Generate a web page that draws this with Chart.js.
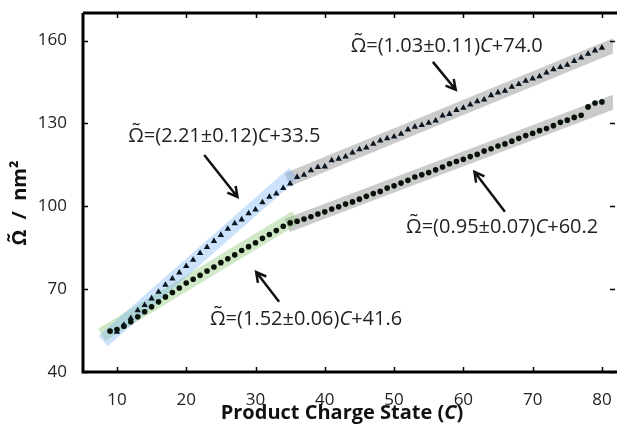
<!DOCTYPE html>
<html>
<head>
<meta charset="utf-8">
<script src="https://cdn.jsdelivr.net/npm/chart.js@4"></script>
<style>
  body { margin: 0; background: #fff; }
  #wrap { width: 617px; height: 427px; }
</style>
</head>
<body>
<div id="wrap"><canvas id="chart" width="617" height="427"></canvas></div>
<script>
// tick values
const xTicks = [10, 20, 30, 40, 50, 60, 70, 80];
const yTicks = [40, 70, 100, 130, 160];

// charge states of the triangle series (upper)
const triCharge = [10, 11, 12, 13, 14, 15, 16, 17, 18, 19, 20, 21, 22, 23, 24, 25, 26, 27, 28, 29,
  30, 31, 32, 33, 34, 35, 36, 37, 38, 39, 40, 41, 42, 43, 44, 45, 46, 47, 48, 49,
  50, 51, 52, 53, 54, 55, 56, 57, 58, 59, 60, 61, 62, 63, 64, 65, 66, 67, 68, 69,
  70, 71, 72, 73, 74, 75, 76, 77, 78, 79, 80];
const triOmega = [54.5, 57.0, 59.5, 62.3, 64.2, 66.6, 69.0, 71.5, 73.8, 76.0, 78.3, 80.6, 83.0, 85.2, 87.4, 89.6, 91.8, 93.8, 95.2, 97.4,
  98.8, 101.4, 103.4, 104.6, 106.6, 108.2, 110.6, 111.4, 113.0, 114.2, 114.4, 116.6, 117.2, 118.0, 119.4, 120.6, 121.2, 122.6, 123.8, 124.6,
  125.2, 126.2, 127.8, 128.8, 129.4, 130.2, 131.0, 132.8, 133.4, 134.8, 135.6, 136.8, 138.0, 138.6, 140.2, 141.2, 141.8, 143.2, 144.2, 145.4,
  146.2, 147.0, 148.4, 149.6, 150.4, 151.2, 152.6, 153.8, 155.2, 156.4, 157.4];

// charge states of the circle series (lower)
const circCharge = [9, 10, 11, 12, 13, 14, 15, 16, 17, 18, 19, 20, 21, 22, 23, 24, 25, 26, 27, 28, 29,
  30, 31, 32, 33, 34, 35, 36, 37, 38, 39, 40, 41, 42, 43, 44, 45, 46, 47, 48, 49,
  50, 51, 52, 53, 54, 55, 56, 57, 58, 59, 60, 61, 62, 63, 64, 65, 66, 67, 68, 69,
  70, 71, 72, 73, 74, 75, 76, 77, 78, 79, 80];
const circOmega = [54.8, 55.4, 56.6, 58.2, 60.0, 61.8, 63.6, 65.4, 67.2, 68.8, 70.4, 72.2, 73.6, 75.0, 76.6, 78.0, 79.6, 81.0, 82.4, 84.0, 85.4,
  86.8, 88.4, 89.8, 91.2, 92.8, 94.0, 94.6, 95.4, 96.2, 97.2, 98.0, 99.0, 99.8, 100.8, 101.6, 102.6, 103.6, 104.6, 105.4, 106.6,
  107.4, 108.4, 109.4, 110.6, 111.4, 112.2, 113.2, 114.2, 115.4, 116.2, 117.0, 118.0, 118.8, 120.0, 120.8, 121.8, 122.6, 123.6, 124.6, 125.6,
  126.4, 127.4, 128.2, 129.2, 130.4, 131.2, 132.2, 133.0, 136.0, 137.4, 137.8];

// fit bands: [start, end] in charge state and omega
const blueBandC = [8.0, 35.5];
const blueBandOmega = [51.2, 112.0];
const greenBandC = [7.8, 35.8];
const greenBandOmega = [53.5, 96.0];
const grayUpperC = [34.6, 82.0];
const grayUpperOmega = [109.6, 158.5];
const grayLowerC = [34.6, 82.0];
const grayLowerOmega = [93.1, 138.1];

function toPoints(xs, ys) {
  return xs.map((v, i) => ({ x: v, y: ys[i] }));
}

const FONT = '"Open Sans", "Noto Sans", sans-serif';
const OMEGA = 'Ω\u0303';

// annotation texts and arrows (in data coordinates)
const notes = [
  { c: 57.6, w: 158.1, parts: [['=(1.03±0.11)', false], ['C', true], ['+74.0', false]], arrow: [55.6, 152.3, 58.9, 142.2] },
  { c: 25.5, w: 125.5, parts: [['=(2.21±0.12)', false], ['C', true], ['+33.5', false]], arrow: [22.6, 118.6, 27.4, 103.4] },
  { c: 37.3, w: 59.2, parts: [['=(1.52±0.06)', false], ['C', true], ['+41.6', false]], arrow: [33.4, 65.4, 30.1, 76.2] },
  { c: 65.6, w: 92.5, parts: [['=(0.95±0.07)', false], ['C', true], ['+60.2', false]], arrow: [66.0, 98.0, 61.6, 112.5] }
];

function drawRich(ctx, parts, cx, cy, size, bold) {
  const w = bold ? 'bold ' : '';
  let total = 0;
  parts.forEach(p => {
    ctx.font = (p[1] ? 'italic ' : '') + w + size + 'px ' + FONT;
    total += ctx.measureText(p[0]).width;
  });
  let x = cx - total / 2;
  ctx.textAlign = 'left';
  ctx.textBaseline = 'middle';
  parts.forEach(p => {
    ctx.font = (p[1] ? 'italic ' : '') + w + size + 'px ' + FONT;
    ctx.fillText(p[0], x, cy);
    x += ctx.measureText(p[0]).width;
  });
}

function drawArrow(ctx, x1, y1, x2, y2) {
  const ang = Math.atan2(y2 - y1, x2 - x1);
  const head = 11;
  ctx.beginPath();
  ctx.moveTo(x1, y1);
  ctx.lineTo(x2, y2);
  ctx.moveTo(x2 - head * Math.cos(ang - 0.5), y2 - head * Math.sin(ang - 0.5));
  ctx.lineTo(x2, y2);
  ctx.lineTo(x2 - head * Math.cos(ang + 0.5), y2 - head * Math.sin(ang + 0.5));
  ctx.stroke();
}

const framePlugin = {
  id: 'frame',
  afterDraw(chart) {
    const { ctx, chartArea: a, scales: { x, y } } = chart;
    ctx.save();
    ctx.strokeStyle = '#000';

    // inward ticks on all four sides
    ctx.lineWidth = 1.5;
    ctx.beginPath();
    xTicks.forEach(v => {
      const px = Math.round(x.getPixelForValue(v)) + 0.5;
      ctx.moveTo(px, a.bottom); ctx.lineTo(px, a.bottom - 5);
      ctx.moveTo(px, a.top); ctx.lineTo(px, a.top + 5);
    });
    yTicks.forEach(v => {
      const py = Math.round(y.getPixelForValue(v)) + 0.5;
      ctx.moveTo(a.left, py); ctx.lineTo(a.left + 5, py);
      ctx.moveTo(a.right + 2, py); ctx.lineTo(a.right - 3, py);
    });
    ctx.stroke();

    // spines
    ctx.lineWidth = 3;
    ctx.beginPath();
    ctx.moveTo(a.left, a.top); ctx.lineTo(a.right + 5, a.top);
    ctx.moveTo(a.left, a.top); ctx.lineTo(a.left, a.bottom);
    ctx.moveTo(a.left - 1.5, a.bottom); ctx.lineTo(a.right + 5, a.bottom);
    ctx.stroke();

    // fit annotations
    ctx.fillStyle = '#222';
    ctx.strokeStyle = '#111';
    ctx.lineWidth = 2.5;
    notes.forEach(n => {
      const parts = [[OMEGA, false]].concat(n.parts);
      drawRich(ctx, parts, x.getPixelForValue(n.c), y.getPixelForValue(n.w), 20, false);
      const [c1, w1, c2, w2] = n.arrow;
      drawArrow(ctx, x.getPixelForValue(c1), y.getPixelForValue(w1), x.getPixelForValue(c2), y.getPixelForValue(w2));
    });

    // axis titles
    ctx.fillStyle = '#111';
    drawRich(ctx, [['Product Charge State (', false], ['C', true], [')', false]], 342, 413, 20, true);
    ctx.translate(20, 203);
    ctx.rotate(-Math.PI / 2);
    drawRich(ctx, [[OMEGA + '  /  nm²', false]], 0, 0, 20, true);
    ctx.restore();
  }
};

function band(xs, ys, color) {
  return {
    type: 'line',
    data: toPoints(xs, ys),
    borderColor: color,
    borderWidth: 14,
    borderCapStyle: 'butt',
    pointRadius: 0,
    order: 2
  };
}

const ctx = document.getElementById('chart').getContext('2d');
new Chart(ctx, {
  type: 'scatter',
  data: {
    datasets: [
      band(blueBandC, blueBandOmega, 'rgba(120,180,245,0.38)'),
      band(greenBandC, greenBandOmega, 'rgba(130,195,110,0.38)'),
      band(grayUpperC, grayUpperOmega, 'rgba(140,140,140,0.45)'),
      band(grayLowerC, grayLowerOmega, 'rgba(140,140,140,0.45)'),
      {
        data: toPoints(triCharge, triOmega),
        pointStyle: 'triangle',
        pointRadius: 3.7,
        backgroundColor: '#0b1620',
        borderColor: '#0b1620',
        borderWidth: 0,
        order: 1
      },
      {
        data: toPoints(circCharge, circOmega),
        pointStyle: 'circle',
        pointRadius: 2.8,
        backgroundColor: '#081208',
        borderColor: '#081208',
        borderWidth: 0,
        order: 1
      }
    ]
  },
  options: {
    responsive: false,
    devicePixelRatio: 1,
    animation: false,
    layout: { padding: { top: 13, right: 0, left: 0, bottom: 0 } },
    plugins: { legend: { display: false }, tooltip: { enabled: false } },
    scales: {
      x: {
        type: 'linear',
        min: 5.1,
        max: 81.6,
        afterFit: s => { s.height = 55; s.paddingLeft = 0; s.paddingRight = 0; },
        afterBuildTicks: s => { s.ticks = xTicks.map(v => ({ value: v })); },
        grid: { display: false },
        border: { display: false },
        ticks: { color: '#222', padding: 10, font: { family: FONT, size: 17 } }
      },
      y: {
        type: 'linear',
        min: 40,
        max: 170,
        afterFit: s => { s.width = 83; s.paddingTop = 0; s.paddingBottom = 0; },
        afterBuildTicks: s => { s.ticks = yTicks.map(v => ({ value: v })); },
        grid: { display: false },
        border: { display: false },
        ticks: { color: '#222', padding: 8, font: { family: FONT, size: 17 } }
      }
    }
  },
  plugins: [framePlugin]
});
</script>
</body>
</html>
